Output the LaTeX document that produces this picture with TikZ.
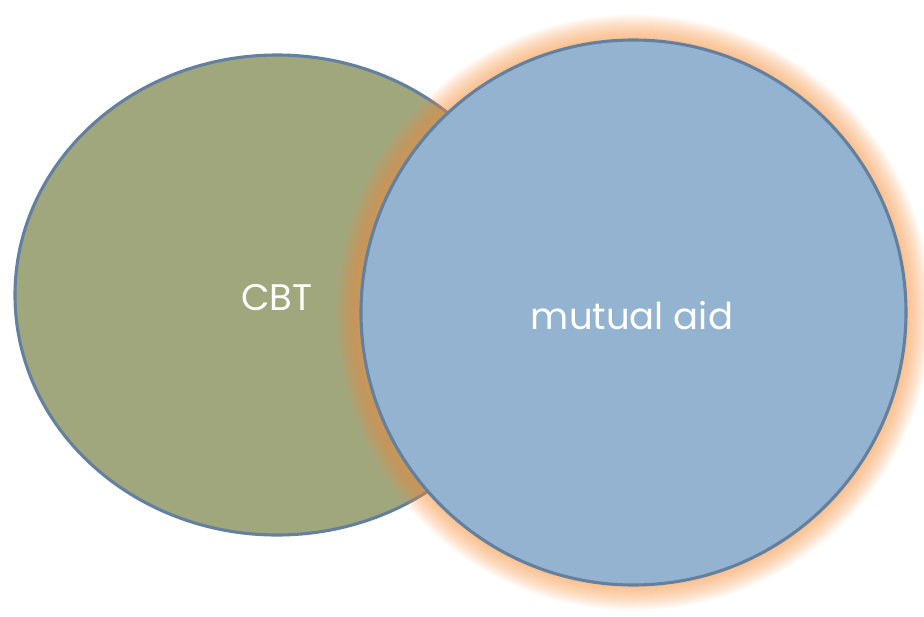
\documentclass[tikz,border=0pt]{standalone}
\usepackage{fontspec}
\setmainfont{Poppins}
\definecolor{olivefill}{HTML}{A1A77D}
\definecolor{bluefill}{HTML}{93B3D0}
\definecolor{edge}{HTML}{63809E}
\definecolor{glow}{HTML}{F79646}
\tikzset{
  shapeline/.style={draw=edge, line width=3.1pt},
  lbl/.style={text=white, font=\fontsize{37}{40}\selectfont, inner sep=0pt},
}
\begin{document}
\begin{tikzpicture}[x=1pt,y=-1pt]
\useasboundingbox (0,0) rectangle (924,616);
% left ellipse
\fill[olivefill] (277,295) ellipse [x radius=262, y radius=240];
\draw[shapeline] (277,295) ellipse [x radius=262, y radius=240];
% glow
\foreach \i in {1,...,26}{
  \fill[glow, opacity=0.036] (633.5,312.5) circle [radius=272+\i];
}
% right circle
\fill[bluefill] (633.5,312.5) circle [radius=272.5];
\draw[shapeline] (633.5,312.5) circle [radius=272.5];
\node[lbl] (cbt) at (277,298) {CBT};
\node[lbl] (ma) at (632,316) {mutual aid};
\end{tikzpicture}
\end{document}
